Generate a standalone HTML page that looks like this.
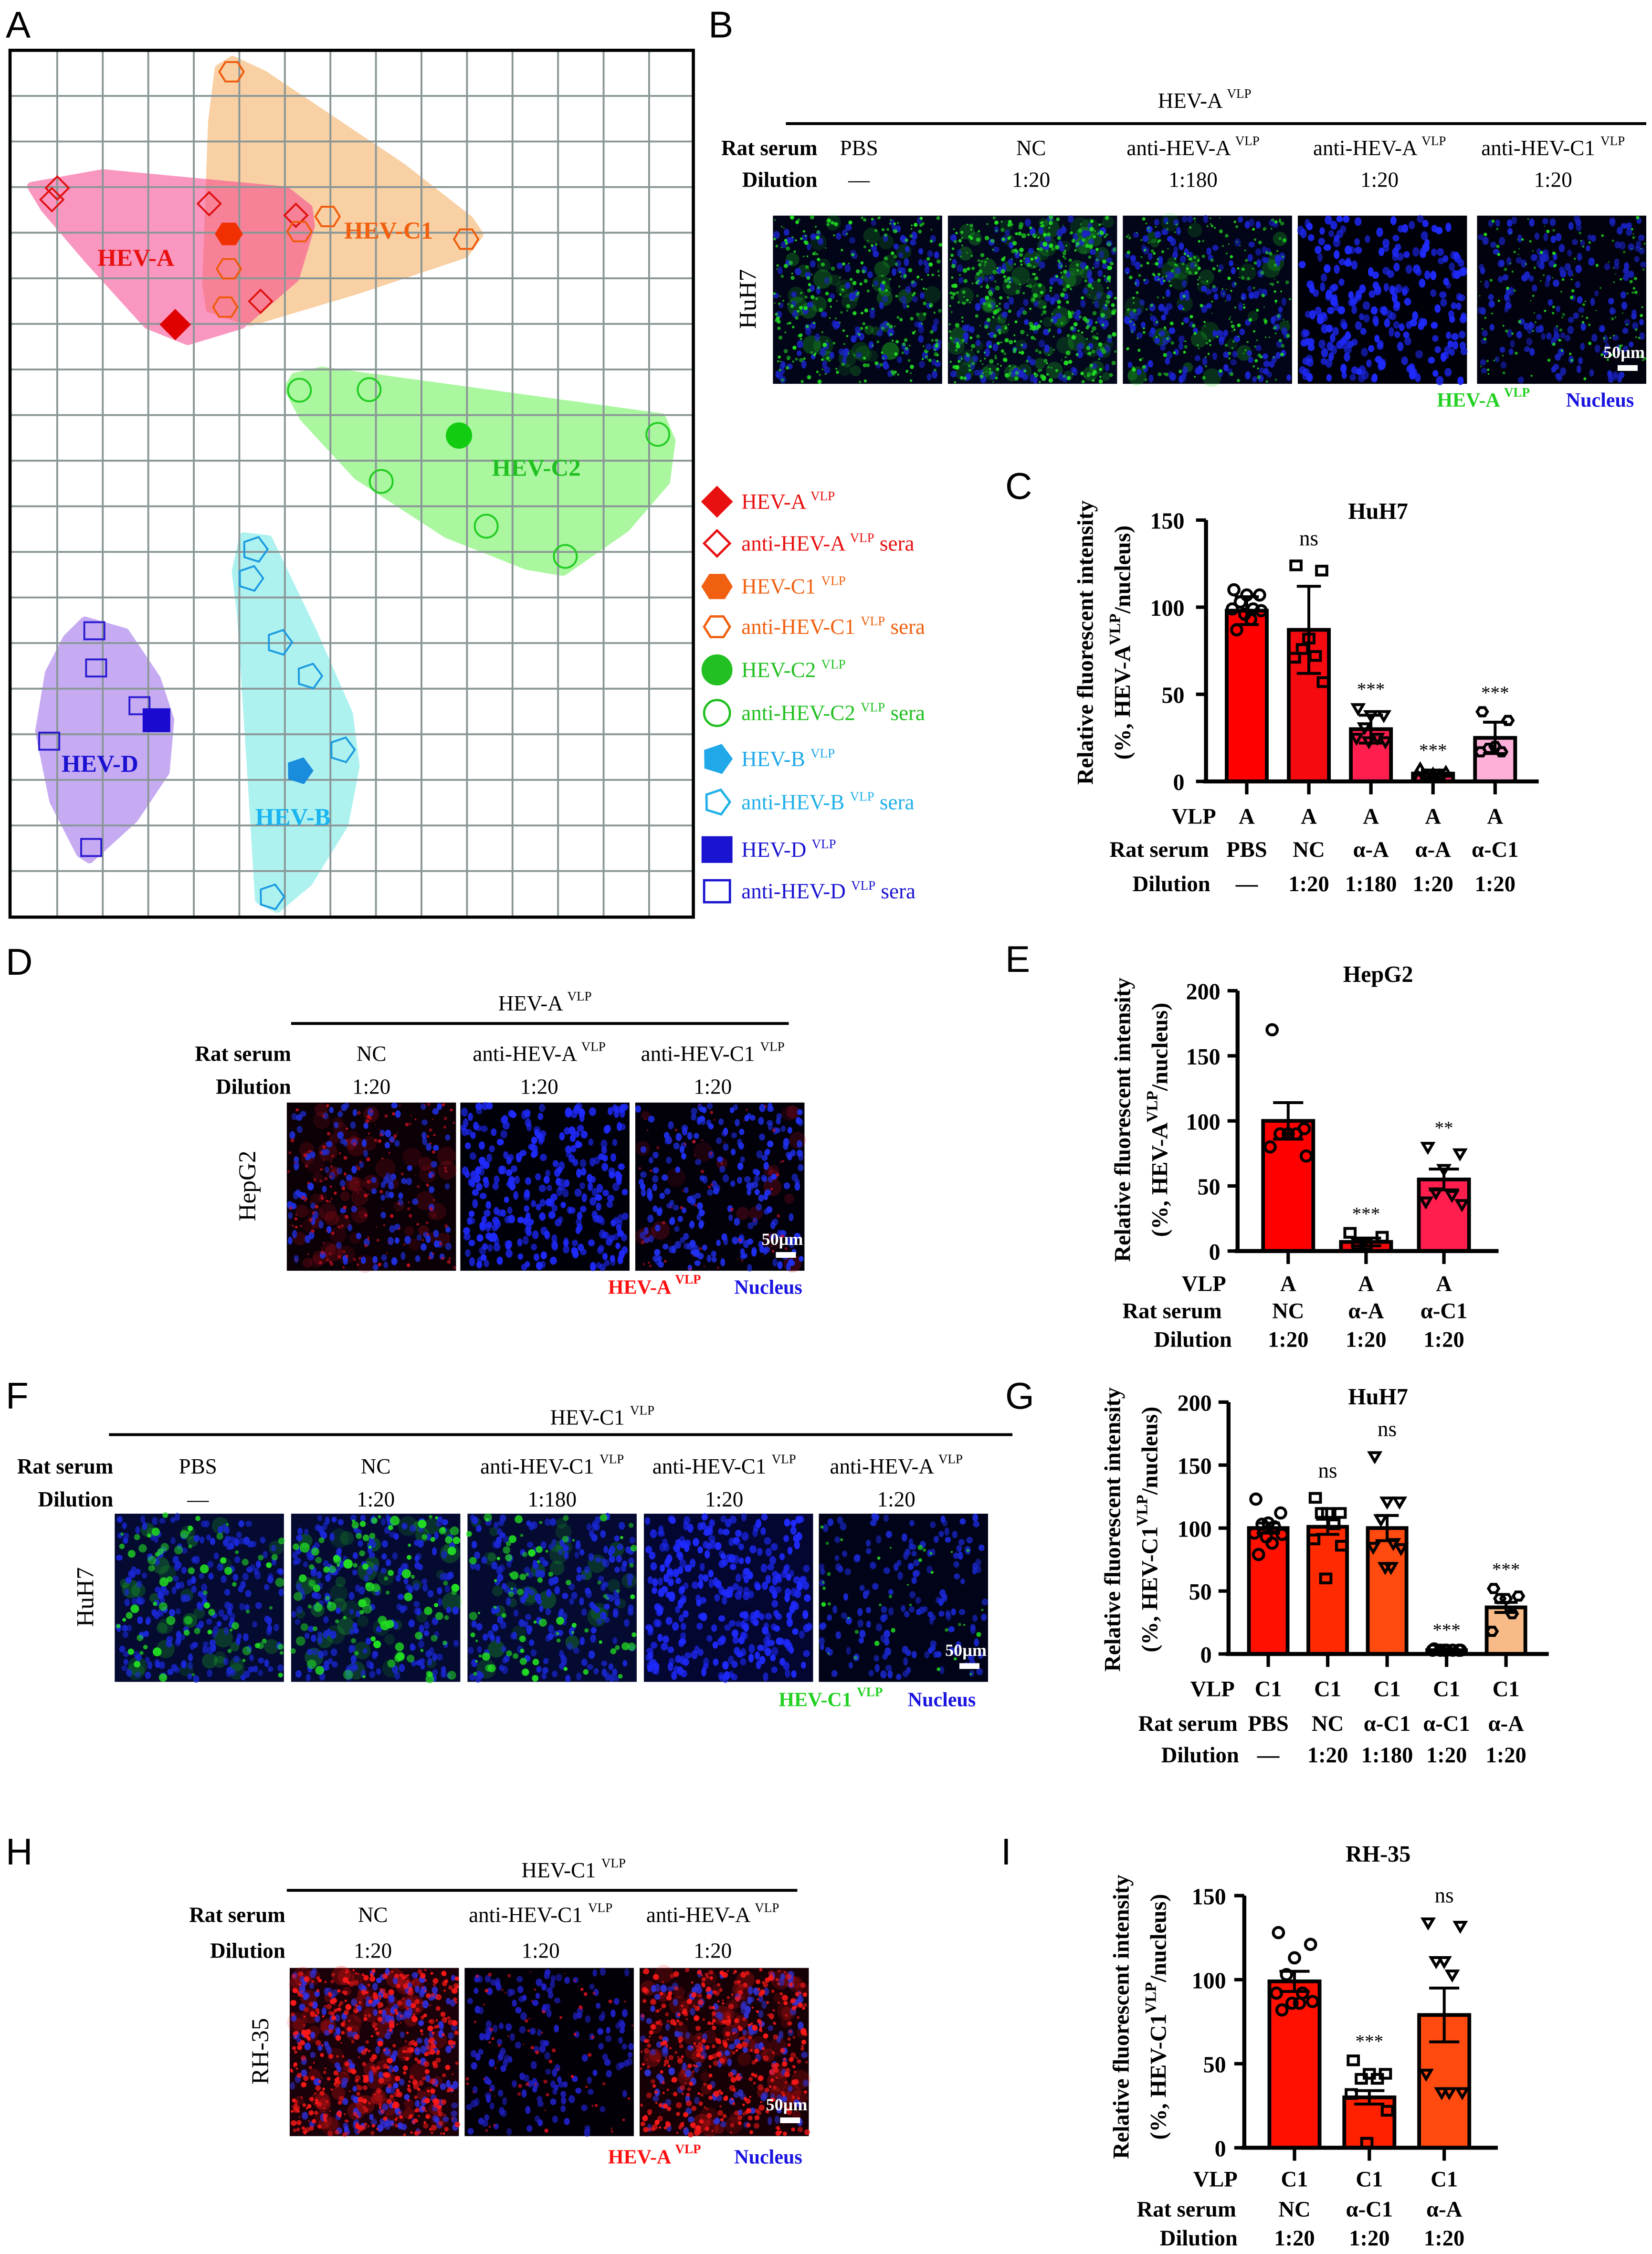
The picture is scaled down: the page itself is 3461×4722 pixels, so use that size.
<!DOCTYPE html>
<html><head><meta charset="utf-8"><title>HEV figure</title>
<style>
html,body{margin:0;padding:0;background:#fff;}
svg{display:block;}
.lt{font-family:"Liberation Sans",sans-serif;font-size:26px;}
.sf{font-family:"Liberation Serif",serif;}
.bd{font-family:"Liberation Serif",serif;font-weight:bold;}
</style></head>
<body>
<svg id="fig" xmlns="http://www.w3.org/2000/svg" width="3461" height="4722" viewBox="0 0 1152 1568" preserveAspectRatio="none">
<g id="letters">
<text class="lt" x="4" y="26">A</text>
<text class="lt" x="494" y="26">B</text>
<text class="lt" x="701" y="347">C</text>
<text class="lt" x="4" y="678">D</text>
<text class="lt" x="701" y="676">E</text>
<text class="lt" x="4" y="980">F</text>
<text class="lt" x="701" y="980">G</text>
<text class="lt" x="4" y="1297">H</text>
<text class="lt" x="698" y="1297">I</text>
</g>
<g id="panelA"></g>
<g id="legendA"></g>
<g id="micro"></g>
<g id="charts"></g>
</svg>
<script>
const NS="http://www.w3.org/2000/svg";
function el(tag,attrs,parent){const e=document.createElementNS(NS,tag);for(const k in attrs)e.setAttribute(k,attrs[k]);if(parent)parent.appendChild(e);return e;}

/* ---------------- Panel A data (map coordinates) ---------------- */
const aSeraA=[[128,265],[116,285],[468,292],[662,312],[583,460]];
const aVlpA=[[392,500]];
const aSeraC1=[[518,65],[733,314],[670,340],[512,404],[504,470],[1043,353]];
const aVlpC1=[[512,344]];
const aSeraC2=[[670,613],[826,612],[853,770],[1088,847],[1265,899],[1472,689]];
const aVlpC2=[[1027,691]];
const aSeraB=[[570,887],[560,937],[625,1047],[692,1105],[765,1232],[607,1485]];
const aVlpB=[[670,1268]];
const aSeraD=[[211,1027],[215,1091],[312,1156],[110,1217],[204,1400]];
const aVlpD=[[350,1181]];
const hullC1=[[490,60],[520,45],[590,70],[900,230],[1050,320],[1072,345],[1040,378],[800,440],[560,495],[470,472],[462,430],[475,150]];
const hullA=[[70,262],[230,240],[640,270],[690,300],[695,330],[660,420],[540,500],[420,528],[330,500],[200,390],[100,300]];
const hullC2=[[660,590],[720,580],[1480,660],[1502,700],[1490,770],[1400,850],[1260,925],[1180,915],[1000,860],[800,760],[680,660],[645,610]];
const hullB=[[545,865],[600,870],[700,1030],[780,1170],[795,1260],[770,1360],[690,1460],[620,1505],[580,1490],[565,1300],[540,1000],[528,925]];
const hullD=[[190,1010],[280,1030],[350,1110],[380,1180],[370,1270],[300,1350],[200,1420],[180,1410],[120,1320],[88,1200],[110,1100],[150,1040]];

function ax(v){return 6.9+(v-22)*0.3116;}
function ay(v){return 35+(v-28)*0.4042;}

function shape(g,type,cx,cy,s,color,filled,sw){
  const f=filled?color:"none";const st=color;sw=sw||1.3;
  let e;
  if(type==="diamond"){e=el("polygon",{points:`${cx},${cy-s} ${cx+s},${cy} ${cx},${cy+s} ${cx-s},${cy}`,fill:f,stroke:st,"stroke-width":sw},g);}
  else if(type==="hex"){let p=[];for(let i=0;i<6;i++){const a=Math.PI/3*i;p.push((cx+s*Math.cos(a)).toFixed(2)+","+(cy+s*0.92*Math.sin(a)).toFixed(2));}e=el("polygon",{points:p.join(" "),fill:f,stroke:st,"stroke-width":sw},g);}
  else if(type==="circle"){e=el("circle",{cx,cy,r:s,fill:f,stroke:st,"stroke-width":sw},g);}
  else if(type==="pent"){let p=[];for(let i=0;i<5;i++){const a=-Math.PI/2+2*Math.PI/5*i+0.3;p.push((cx+s*Math.cos(a)).toFixed(2)+","+(cy+s*Math.sin(a)).toFixed(2));}e=el("polygon",{points:p.join(" "),fill:f,stroke:st,"stroke-width":sw},g);}
  else if(type==="square"){e=el("rect",{x:cx-s,y:cy-s*0.85,width:2*s,height:1.7*s,fill:f,stroke:st,"stroke-width":sw},g);}
  else if(type==="tridown"){e=el("polygon",{points:`${cx-s},${cy-s*0.7} ${cx+s},${cy-s*0.7} ${cx},${cy+s}`,fill:f,stroke:st,"stroke-width":sw},g);}
  else if(type==="triup"){e=el("polygon",{points:`${cx-s},${cy+s*0.7} ${cx+s},${cy+s*0.7} ${cx},${cy-s}`,fill:f,stroke:st,"stroke-width":sw},g);}
  return e;
}

(function(){
  const g=document.getElementById("panelA");
  const hulls=[[hullC1,"#f8d0a4",1,"hull-hev-c1"],[hullA,"#f7438f",0.55,"hull-hev-a"],[hullC2,"#aaf7a0",1,"hull-hev-c2"],[hullB,"#aef2f0",1,"hull-hev-b"],[hullD,"#c6abf3",1,"hull-hev-d"]];
  hulls.forEach(h=>{
    const hg=el("g",{opacity:h[2]},g);
    const pts=h[0].map(p=>ax(p[0]).toFixed(1)+","+ay(p[1]).toFixed(1)).join(" ");
    const e=el("polygon",{points:pts,fill:h[1],stroke:h[1],"stroke-width":6,"stroke-linejoin":"round"},hg);
    
    
  });
  const grid=el("g",{},g);
  
  
  for(let i=0;i<14;i++){const x=39.9+i*31.75;el("line",{x1:x,y1:35,x2:x,y2:638,stroke:"#8a9696","stroke-width":1.3},grid);}
  for(let i=1;i<19;i++){const y=35+i*31.72;el("line",{x1:7,y1:y,x2:483,y2:y,stroke:"#8a9696","stroke-width":1.3},grid);}
  const box=el("rect",{x:7,y:35,width:476.5,height:603,fill:"none",stroke:"#000","stroke-width":2.2},g);
  
  
  const sets=[[aSeraA,"diamond","#e01010",false,8],[aVlpA,"diamond","#e00000",true,10],[aSeraC1,"hex","#f05a0a",false,8.5],[aVlpC1,"hex","#f03000",true,9],
    [aSeraC2,"circle","#22cc22",false,8],[aVlpC2,"circle","#11cc11",true,8.5],[aSeraB,"pent","#1a9ae0",false,9],[aVlpB,"pent","#1a8cdc",true,9],
    [aSeraD,"square","#2a1ad0",false,7],[aVlpD,"square","#1a0ad0",true,9]];
  sets.forEach((s,si)=>{s[0].forEach(p=>{const m=shape(g,s[1],ax(p[0]),ay(p[1]),s[4],s[2],s[3],1.3);
    
    });});
  const labels=[["HEV-A",68,185,"#e81010"],["HEV-C1",240,166,"#f06010"],["HEV-C2",343,331,"#22c022"],["HEV-D",43,537,"#1a10d0"],["HEV-B",178,574,"#1ab4f0"]];
  labels.forEach(l=>{const t=el("text",{x:l[1],y:l[2],fill:l[3],class:"bd","font-size":17},g);t.textContent=l[0];
    
    });
  /* legend */
  const lg=document.getElementById("legendA");
  const items=[["diamond","#e81010",true,"HEV-A","",349],["diamond","#e81010",false,"anti-HEV-A"," sera",378],["hex","#f06010",true,"HEV-C1","",408],["hex","#f06010",false,"anti-HEV-C1"," sera",436],
   ["circle","#22c022",true,"HEV-C2","",466],["circle","#22c022",false,"anti-HEV-C2"," sera",496],["pent","#20a8e8",true,"HEV-B","",528],["pent","#20b0e8",false,"anti-HEV-B"," sera",558],
   ["square","#1a14d0",true,"HEV-D","",591],["square","#1a14d0",false,"anti-HEV-D"," sera",620]];
  items.forEach(it=>{
    const m=shape(lg,it[0],500,it[5],it[2]?10:9,it[1],it[2],1.6);
    
    
    const t=el("text",{x:517,y:it[5]+5,fill:it[1],class:"sf","font-size":15},lg);
    
    
    const a=el("tspan",{},t);a.textContent=it[3]+" ";
    const b=el("tspan",{"font-size":9,dy:-6},t);b.textContent="VLP";
    const c=el("tspan",{dy:6},t);c.textContent=it[4];
  });
})();

/* ---------------- Microscopy panels ---------------- */
let seed=12345;function rnd(){seed=(seed*1103515245+12345)%2147483648;return seed/2147483648;}
function microImg(g,x,y,w,h,o,name){
  const gg=el("g",{},g);
  
  
  el("rect",{x,y,width:w,height:h,fill:o.bg},gg);
  for(let i=0;i<(o.haze||0);i++){el("circle",{cx:(x+4+rnd()*(w-8)).toFixed(1),cy:(y+4+rnd()*(h-8)).toFixed(1),r:(3+rnd()*4).toFixed(1),fill:o.sigC,opacity:(0.12+rnd()*0.15).toFixed(2)},gg);}
  const nr=o.nr||1;
  for(let i=0;i<o.nuc;i++){el("ellipse",{cx:(x+2+rnd()*(w-4)).toFixed(1),cy:(y+2+rnd()*(h-4)).toFixed(1),rx:(nr*(1.6+rnd()*0.7)).toFixed(2),ry:(nr*(2+rnd()*0.9)).toFixed(2),fill:o.nucC,opacity:(0.55+rnd()*0.45).toFixed(2)},gg);}
  for(let i=0;i<o.sig;i++){el("circle",{cx:(x+1+rnd()*(w-2)).toFixed(1),cy:(y+1+rnd()*(h-2)).toFixed(1),r:(o.sr*(0.4+rnd())).toFixed(1),fill:o.sigC,opacity:(0.5+rnd()*0.5).toFixed(2)},gg);}
  if(o.bar){el("rect",{x:x+w-20,y:y+h-13,width:14,height:4,fill:"#fff"},gg);
    const t=el("text",{x:x+w-1,y:y+h-18,"text-anchor":"end",fill:"#fff",class:"bd","font-size":12},gg);t.textContent="50\u00b5m";
    
    }
}
function txt(g,x,y,s,opt,name){const t=el("text",Object.assign({x,y},opt),g);t.textContent=s;
  
  return t;}
function supTxt(g,x,y,main,sup,opt,name){const t=el("text",Object.assign({x,y},opt),g);
  
  
  const a=el("tspan",{},t);a.textContent=main+" ";const b=el("tspan",{"font-size":9,dy:-7},t);b.textContent=sup;return t;}

function microPanel(cfg){
  const g=document.getElementById("micro");
  const pg=el("g",{},g);
  
  
  supTxt(pg,cfg.titleX,cfg.titleY,cfg.title,"VLP",{class:"sf","font-size":15,"text-anchor":"middle"},"virus-header");
  el("line",{x1:cfg.lineX1,y1:cfg.lineY,x2:cfg.lineX2,y2:cfg.lineY,stroke:"#000","stroke-width":2},pg);
  txt(pg,cfg.rowLabX,cfg.row1,"Rat serum",{class:"bd","font-size":15,"text-anchor":"end"},"row-label-rat-serum");
  txt(pg,cfg.rowLabX,cfg.row2,"Dilution",{class:"bd","font-size":15,"text-anchor":"end"},"row-label-dilution");
  cfg.cols.forEach((c,i)=>{
    const cx=cfg.colX[i];
    if(c[1])supTxt(pg,cx,cfg.row1,c[0],"VLP",{class:"sf","font-size":15,"text-anchor":"middle"},"column-serum");
    else txt(pg,cx,cfg.row1,c[0],{class:"sf","font-size":15,"text-anchor":"middle"},"column-serum");
    txt(pg,cx,cfg.row2,c[2],{class:"sf","font-size":15,"text-anchor":"middle"},"column-dilution");
  });
  cfg.imgs.forEach((o,i)=>{o.bar=(i===cfg.imgs.length-1);microImg(pg,cfg.imgX[i],cfg.imgY,118,117,o,"micrograph-"+(i+1));});
  txt(pg,0,0,cfg.cell,{class:"sf","font-size":17,"text-anchor":"middle",transform:`translate(${cfg.cellX},${cfg.imgY+58}) rotate(-90)`},"cell-line-label");
  supTxt(pg,cfg.legX,cfg.legY,cfg.sigName,"VLP",{class:"bd","font-size":14,fill:cfg.sigCol},"stain-legend-signal");
  txt(pg,cfg.nucX,cfg.legY,"Nucleus",{class:"bd","font-size":14,fill:"#1a14e0"},"stain-legend-nucleus");
}
const G="#22e022",R="#ff1a1a",BL="#1f2aff";
microPanel({name:"panel-b-micrographs",title:"HEV-A",titleX:840,titleY:75,lineX1:548,lineX2:1148,lineY:86,rowLabX:570,row1:108,row2:130,
  cols:[["PBS",0,"\u2014"],["NC",0,"1:20"],["anti-HEV-A",1,"1:180"],["anti-HEV-A",1,"1:20"],["anti-HEV-C1",1,"1:20"]],colX:[599,719,832,962,1083],
  imgX:[539,661,783,905,1030],imgY:150,cell:"HuH7",cellX:527,sigName:"HEV-A",sigCol:"#22d022",legX:1002,nucX:1092,legY:283,
  imgs:[{bg:"#020418",nuc:150,nucC:"#1a24c8",sig:300,sigC:G,sr:1.1,haze:40},{bg:"#03081c",nuc:160,nucC:"#1a24c8",sig:450,sigC:G,sr:1.2,haze:70},{bg:"#020418",nuc:180,nucC:"#1a24d0",sig:260,sigC:G,sr:1.0,haze:30},
        {bg:"#000008",nuc:250,nucC:BL,sig:0,sigC:G,sr:1,nr:1.15},{bg:"#01020e",nuc:190,nucC:"#1a24c8",sig:140,sigC:G,sr:0.9}]});
microPanel({name:"panel-d-micrographs",title:"HEV-A",titleX:380,titleY:703,lineX1:203,lineX2:550,lineY:712,rowLabX:203,row1:738,row2:761,
  cols:[["NC",0,"1:20"],["anti-HEV-A",1,"1:20"],["anti-HEV-C1",1,"1:20"]],colX:[259,376,497],
  imgX:[200,321,443],imgY:767,cell:"HepG2",cellX:178,sigName:"HEV-A",sigCol:"#ff1010",legX:424,nucX:512,legY:900,
  imgs:[{bg:"#0a0006",nuc:130,nucC:"#2030e0",sig:180,sigC:"#c01020",sr:1.0,haze:60},{bg:"#000008",nuc:300,nucC:BL,sig:0,sigC:R,sr:1,nr:1.1},{bg:"#020008",nuc:230,nucC:"#2030f0",sig:60,sigC:"#c01030",sr:0.9,haze:20}]});
microPanel({name:"panel-f-micrographs",title:"HEV-C1",titleX:420,titleY:991,lineX1:76,lineX2:706,lineY:998,rowLabX:79,row1:1025,row2:1048,
  cols:[["PBS",0,"\u2014"],["NC",0,"1:20"],["anti-HEV-C1",1,"1:180"],["anti-HEV-C1",1,"1:20"],["anti-HEV-A",1,"1:20"]],colX:[138,262,385,505,625],
  imgX:[80,203,326,449,571],imgY:1053,cell:"HuH7",cellX:65,sigName:"HEV-C1",sigCol:"#22d022",legX:543,nucX:633,legY:1187,
  imgs:[{bg:"#040a30",nuc:220,nucC:"#1a28d8",sig:70,sigC:G,sr:2.3,haze:30},{bg:"#040a30",nuc:220,nucC:"#1a28d8",sig:100,sigC:G,sr:2.5,haze:40},{bg:"#040a30",nuc:220,nucC:"#1a28d8",sig:80,sigC:G,sr:2.1,haze:30},
        {bg:"#020630",nuc:320,nucC:BL,sig:0,sigC:G,sr:1,nr:1.1},{bg:"#010418",nuc:170,nucC:"#1a28d0",sig:35,sigC:G,sr:1.3}]});
microPanel({name:"panel-h-micrographs",title:"HEV-C1",titleX:400,titleY:1306,lineX1:200,lineX2:556,lineY:1315,rowLabX:199,row1:1337,row2:1362,
  cols:[["NC",0,"1:20"],["anti-HEV-C1",1,"1:20"],["anti-HEV-A",1,"1:20"]],colX:[260,377,497],
  imgX:[202,324,446],imgY:1369,cell:"RH-35",cellX:187,sigName:"HEV-A",sigCol:"#ff1010",legX:424,nucX:512,legY:1505,
  imgs:[{bg:"#1a0008",nuc:200,nucC:"#3030e0",sig:480,sigC:"#ff1818",sr:1.5,haze:80},{bg:"#020006",nuc:170,nucC:"#2020c8",sig:70,sigC:"#d01020",sr:1.0},{bg:"#160006",nuc:150,nucC:"#3030d0",sig:430,sigC:"#ff1818",sr:1.5,haze:70}]});

/* ---------------- Bar chart data ---------------- */
const cCategories=["PBS","NC","\u03b1-A","\u03b1-A","\u03b1-C1"];
const cVlp=["A","A","A","A","A"];
const cDilution=["\u2014","1:20","1:180","1:20","1:20"];
const cMeans=[98,87,30,4.5,25];
const cErrors=[8,25,8,2,9];
const cPoints=[[110,107,107,103,99,99,98,96,93,87],[124,121,82,76,72,71,57],[42,38,38,31,25,25,23,23],[7,5,4,3,3,2],[40,35,20,19,17,17]];
const cSig=["","ns","***","***","***"];
const cTicks=[0,50,100,150];

const eCategories=["NC","\u03b1-A","\u03b1-C1"];
const eVlp=["A","A","A"];
const eDilution=["1:20","1:20","1:20"];
const eMeans=[100,7,55];
const eErrors=[14,3,8];
const ePoints=[[170,94,90,90,90,80,73],[14,11,5,5],[80,75,63,45,43,38,36]];
const eSig=["","***","**"];
const eTicks=[0,50,100,150,200];

const gCategories=["PBS","NC","\u03b1-C1","\u03b1-C1","\u03b1-A"];
const gVlp=["C1","C1","C1","C1","C1"];
const gDilution=["\u2014","1:20","1:180","1:20","1:20"];
const gMeans=[100,101,100,3,37];
const gErrors=[4,6,10,1,4];
const gPoints=[[123,112,104,103,101,96,95,93,88,79],[124,112,112,112,103,91,86,60],[157,121,121,107,88,85,84,69,69],[4,3,3,3,3,3,3,3],[52,46,44,44,32,18]];
const gSig=["","ns","ns","***","***"];
const gTicks=[0,50,100,150,200];

const iCategories=["NC","\u03b1-C1","\u03b1-A"];
const iVlp=["C1","C1","C1"];
const iDilution=["1:20","1:20","1:20"];
const iMeans=[99,30,79];
const iErrors=[6,4,16];
const iPoints=[[128,121,113,103,92,92,87,86,86,82],[52,44,44,41,41,32,22,3],[134,132,111,111,103,44,33,33,33]];
const iSig=["","***","ns"];
const iTicks=[0,50,100,150];

function barChart(c){
  const g=el("g",{},document.getElementById("charts"));
  
  
  const ymax=c.ticks[c.ticks.length-1];
  const Y=v=>c.y0-(v/ymax)*(c.y0-c.yTop);
  const X=i=>c.x1+i*c.step;
  const n=c.means.length;
  /* bars */
  c.means.forEach((m,i)=>{
    const r=el("rect",{x:X(i)-c.bw/2,y:Y(m),width:c.bw,height:c.y0-Y(m),fill:c.colors[i],stroke:"#000","stroke-width":2.6},g);
    
    
  });
  /* points */
  c.points.forEach((arr,i)=>{
    arr.forEach((v,j)=>{
      const offs=[-0.32,0.32,0,-0.16,0.16,-0.36,0.36,-0.05,0.1,-0.25];
      const off=offs[j%offs.length]*c.bw;
      const m=shape(g,c.markers[i],X(i)+off,Y(v),3.6,"#000",false,2);
      
      
    });
  });
  /* error bars */
  c.means.forEach((m,i)=>{
    const eg=el("g",{stroke:"#000","stroke-width":2},g);
    
    
    el("line",{x1:X(i),y1:Y(m+c.errors[i]),x2:X(i),y2:Y(Math.max(0,m-c.errors[i]))},eg);
    el("line",{x1:X(i)-c.bw*0.3,y1:Y(m+c.errors[i]),x2:X(i)+c.bw*0.3,y2:Y(m+c.errors[i])},eg);
    el("line",{x1:X(i)-c.bw*0.3,y1:Y(Math.max(0,m-c.errors[i])),x2:X(i)+c.bw*0.3,y2:Y(Math.max(0,m-c.errors[i]))},eg);
  });
  /* axes */
  const yA=el("line",{x1:c.ax,y1:Y(ymax),x2:c.ax,y2:c.y0+1,stroke:"#000","stroke-width":2.8},g);
  
  
  const xA=el("line",{x1:c.ax-2,y1:c.y0,x2:c.xEnd,y2:c.y0,stroke:"#000","stroke-width":2.8},g);
  
  
  c.ticks.forEach(t=>{
    el("line",{x1:c.ax-7,y1:Y(t),x2:c.ax,y2:Y(t),stroke:"#000","stroke-width":2.4},g);
    txt(g,c.tickEnd,Y(t)+6,String(t),{class:"bd","font-size":16,"text-anchor":"end"},"y-tick-label");
  });
  for(let i=0;i<n;i++){el("line",{x1:X(i),y1:c.y0,x2:X(i),y2:c.y0+9,stroke:"#000","stroke-width":2.4},g);}
  /* significance */
  c.sig.forEach((s,i)=>{ if(!s)return;
    const top=Math.max(Math.max(...c.points[i]),c.means[i]+c.errors[i]);
    const star=s.indexOf("*")>=0;
    txt(g,X(i),Y(top)-(star?9:14),s,{class:"sf","font-size":star?13:15,"text-anchor":"middle"},"significance-label");
  });
  /* title */
  txt(g,c.titleX,c.titleY,c.title,{class:"bd","font-size":16,"text-anchor":"middle"},"chart-title");
  /* category rows */
  const rows=[["VLP",c.vlp],["Rat serum",c.cats],["Dilution",c.dil]];
  rows.forEach((r,ri)=>{
    const yy=c.rowY[ri];
    txt(g,c.rowLabX[ri],yy,r[0],{class:"bd","font-size":15.5,"text-anchor":"end"},"x-row-label");
    r[1].forEach((s,i)=>{txt(g,X(i),yy,s,{class:"bd","font-size":15.5,"text-anchor":"middle"},"x-tick-label");});
  });
  /* y title */
  const yt=el("g",{transform:`translate(${c.ytX},${c.ytY}) rotate(-90)`},g);
  
  
  txt(yt,0,0,"Relative fluorescent intensity",{class:"bd","font-size":16,"text-anchor":"middle"},"y-title-line1");
  const t2=el("text",{x:0,y:26,class:"bd","font-size":16,"text-anchor":"middle"},yt);
  
  
  const a=el("tspan",{},t2);a.textContent="(%, "+c.virus;
  const b=el("tspan",{"font-size":11,dy:-7},t2);b.textContent="VLP";
  const d=el("tspan",{dy:7},t2);d.textContent="/nucleus)";
}
barChart({name:"chart-c-huh7-hev-a",means:cMeans,errors:cErrors,points:cPoints,sig:cSig,ticks:cTicks,cats:cCategories,vlp:cVlp,dil:cDilution,
  colors:["#ff0000","#f50a10","#ff1e4e","#ff2e60","#ffb0d8"],markers:["circle","square","tridown","triup","hex"],
  ax:841,y0:543.6,yTop:361.8,x1:869.4,step:43.3,bw:28,xEnd:1073,tickEnd:826,title:"HuH7",titleX:961,titleY:361,rowY:[573,596,620],rowLabX:[848,843,844],
  ytX:762,ytY:447,virus:"HEV-A"});
barChart({name:"chart-e-hepg2-hev-a",means:eMeans,errors:eErrors,points:ePoints,sig:eSig,ticks:eTicks,cats:eCategories,vlp:eVlp,dil:eDilution,
  colors:["#ff0000","#f80a0a","#ff1e4e"],markers:["circle","square","tridown"],
  ax:863,y0:870.3,yTop:689.2,x1:898.3,step:54.3,bw:35,xEnd:1045,tickEnd:851,title:"HepG2",titleX:961,titleY:683,rowY:[898,917,937],rowLabX:[855,852,859],
  ytX:788,ytY:779,virus:"HEV-A"});
barChart({name:"chart-g-huh7-hev-c1",means:gMeans,errors:gErrors,points:gPoints,sig:gSig,ticks:gTicks,cats:gCategories,vlp:gVlp,dil:gDilution,
  colors:["#ff1000","#ff2a00","#ff4a10","#ff6a3a","#f8bb88"],markers:["circle","square","tridown","circle","hex"],
  ax:856.7,y0:1150.6,yTop:975.4,x1:884.4,step:41.45,bw:27,xEnd:1080,tickEnd:845,title:"HuH7",titleX:961,titleY:977,rowY:[1180,1204,1226],rowLabX:[861,863,864],
  ytX:781,ytY:1064,virus:"HEV-C1"});
barChart({name:"chart-i-rh35-hev-c1",means:iMeans,errors:iErrors,points:iPoints,sig:iSig,ticks:iTicks,cats:iCategories,vlp:iVlp,dil:iDilution,
  colors:["#ff1000","#ff2000","#ff4a10"],markers:["circle","square","tridown"],
  ax:867.7,y0:1494.1,yTop:1318.7,x1:902.7,step:52.2,bw:35,xEnd:1044.5,tickEnd:855,title:"RH-35",titleX:961,titleY:1295,rowY:[1521,1542,1562],rowLabX:[863,862,863],
  ytX:787,ytY:1403,virus:"HEV-C1"});
</script>
</body></html>
